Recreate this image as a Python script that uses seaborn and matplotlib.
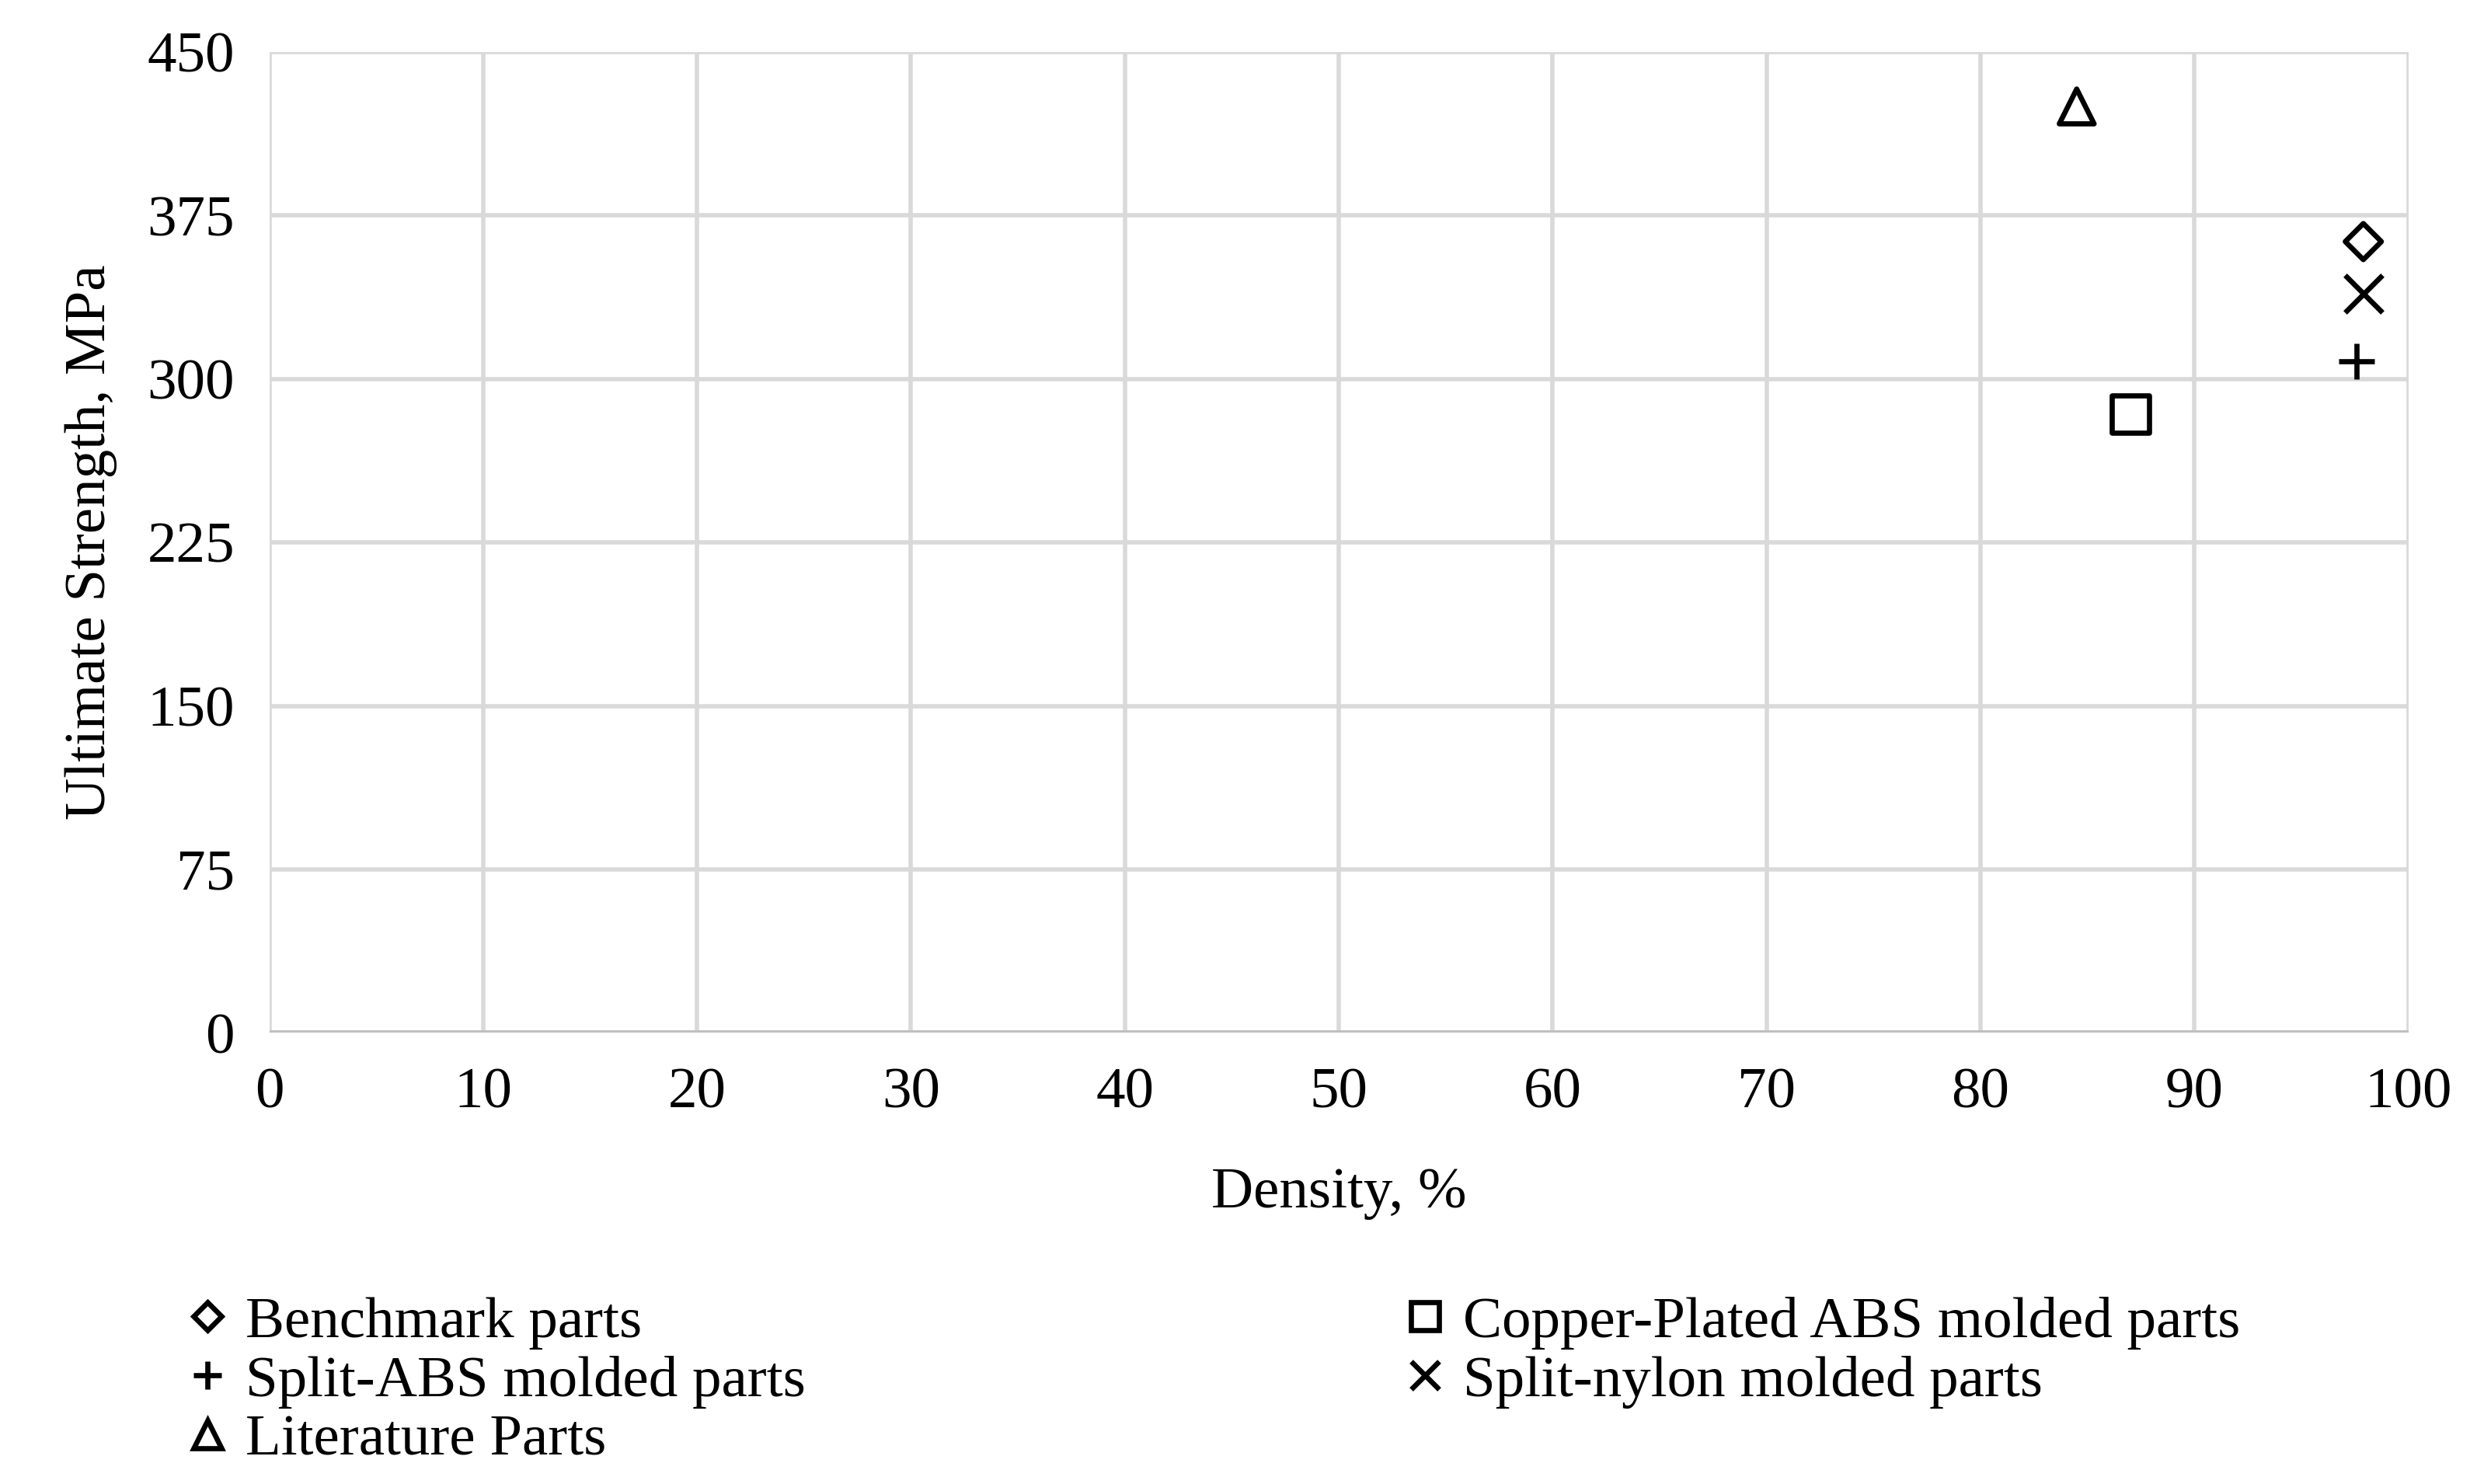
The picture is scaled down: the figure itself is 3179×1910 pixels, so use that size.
import matplotlib
matplotlib.use("Agg")
import matplotlib.pyplot as plt
import seaborn as sns
import pandas as pd

series = ["Benchmark parts", "Copper-Plated ABS molded parts", "Split-ABS molded parts",
          "Split-nylon molded parts", "Literature Parts"]
density = [97.9, 87.0, 97.6, 97.9, 84.5]
strength = [363, 284, 308, 339, 425]
markers = {"Benchmark parts": "D", "Copper-Plated ABS molded parts": "s",
           "Split-ABS molded parts": "+", "Split-nylon molded parts": "x",
           "Literature Parts": "^"}
sizes = {"D": 140, "s": 300, "+": 280, "x": 300, "^": 260}

sns.set_theme(style="whitegrid")
plt.rcParams['font.family'] = ['Liberation Serif', 'DejaVu Serif']
plt.rcParams['text.color'] = 'black'

df = pd.DataFrame({"s": series, "d": density, "u": strength})
fig = plt.figure(figsize=(15.895, 9.55), dpi=200)
ax = fig.add_axes([0.109, 0.304, 0.866, 0.661])
handles = {}
for name in series:
    m = markers[name]
    filled = m in "+x"
    kw = dict(color="black") if filled else dict(facecolors="none", edgecolors="black")
    sub = df[df.s == name]
    sns.scatterplot(data=sub, x="d", y="u", marker=m, s=sizes[m], linewidth=2.4, ax=ax, legend=False, **kw)
    handles[name] = plt.Line2D([], [], linestyle="none", marker=m, markersize=13 if m != "D" else 9,
                               markerfacecolor="none", markeredgecolor="black", markeredgewidth=2.4,
                               color="black")
ax.set_xlim(0, 100)
ax.set_ylim(0, 450)
ax.set_xticks(range(0, 101, 10))
ax.set_yticks(range(0, 451, 75))
ax.grid(True, color="#d9d9d9", linewidth=2)
for s in ax.spines.values():
    s.set_visible(False)
ax.axhline(0, color="#bfbfbf", linewidth=2.5)
ax.tick_params(labelsize=27, colors="black", pad=10)
ax.set_xlabel("Density, %", fontsize=27, labelpad=22, color="black")
ax.set_ylabel("Ultimate Strength, MPa", fontsize=27, labelpad=14, color="black")

col1 = ["Benchmark parts", "Split-ABS molded parts", "Literature Parts"]
col2 = ["Copper-Plated ABS molded parts", "Split-nylon molded parts"]
for names, x in [(col1, 0.045), (col2, 0.538)]:
    leg = fig.legend([handles[n] for n in names], names, loc="upper left", bbox_to_anchor=(x, 0.162),
                     frameon=False, fontsize=27, handletextpad=-0.1, labelspacing=0.1, handlelength=1.5,
                     labelcolor="black")
fig.savefig("out.png", dpi=200)
